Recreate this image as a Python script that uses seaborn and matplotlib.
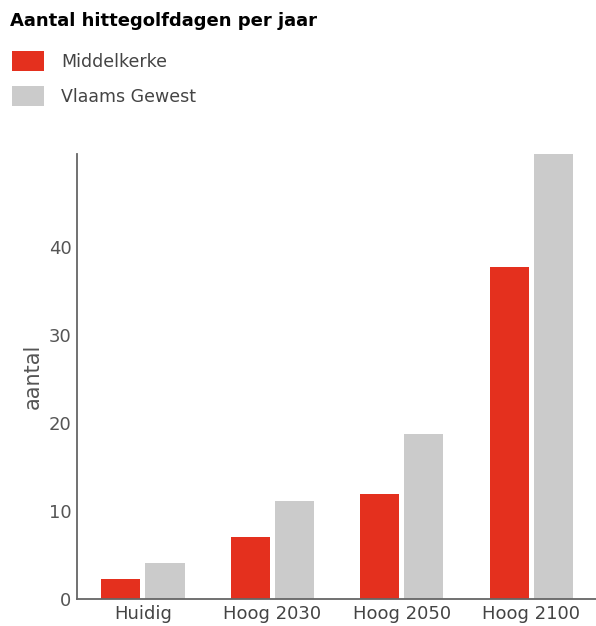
import pandas as pd
import seaborn as sns
import matplotlib.pyplot as plt
from matplotlib.patches import Patch

categories = ['Huidig', 'Hoog 2030', 'Hoog 2050', 'Hoog 2100']
middelkerke = [2.3, 7.0, 11.9, 37.7]
vlaams_gewest = [4.1, 11.1, 18.7, 50.5]
series = ['Middelkerke', 'Vlaams Gewest']
colors = ['#e4301e', '#cbcbcb']

df = pd.DataFrame({
    'categorie': categories * 2,
    'aantal': middelkerke + vlaams_gewest,
    'reeks': [series[0]] * 4 + [series[1]] * 4,
})

sns.set_style('white')
plt.rcParams['font.family'] = ['DejaVu Sans']

fig = plt.figure(figsize=(5.96, 6.26), dpi=100)
ax = fig.add_axes([0.129, 0.043, 0.871, 0.711])

sns.barplot(data=df, x='categorie', y='aantal', hue='reeks', order=categories,
            hue_order=series, palette=colors, width=0.68, gap=0.11,
            saturation=1, linewidth=0, legend=False, ax=ax)

ax.set_xlim(-0.51, 3.5)
ax.set_ylim(0, 50.5)
ax.set_yticks([0, 10, 20, 30, 40])
ax.set_xlabel('')
ax.set_ylabel('aantal', fontsize=15, color='#555555', labelpad=4)
ax.tick_params(axis='both', length=0, labelsize=13, colors='#555555', pad=4)
for lab in ax.get_xticklabels():
    lab.set_color('#444444')

sns.despine(ax=ax, top=True, right=True)
for side in ['left', 'bottom']:
    ax.spines[side].set_color('#666666')
    ax.spines[side].set_linewidth(1.3)

fig.text(0.017, 0.967, 'Aantal hittegolfdagen per jaar', fontsize=13,
         fontweight='bold', color='black', va='center')

handles = [Patch(facecolor=c, edgecolor='none') for c in colors]
fig.legend(handles, series, loc='upper left', bbox_to_anchor=(0.02, 0.918),
           frameon=False, fontsize=12.5, handlelength=1.85, handleheight=1.4,
           handletextpad=1.0, labelspacing=0.85, labelcolor='#444444',
           borderaxespad=0, borderpad=0)

fig.savefig('out.png', dpi=100)
